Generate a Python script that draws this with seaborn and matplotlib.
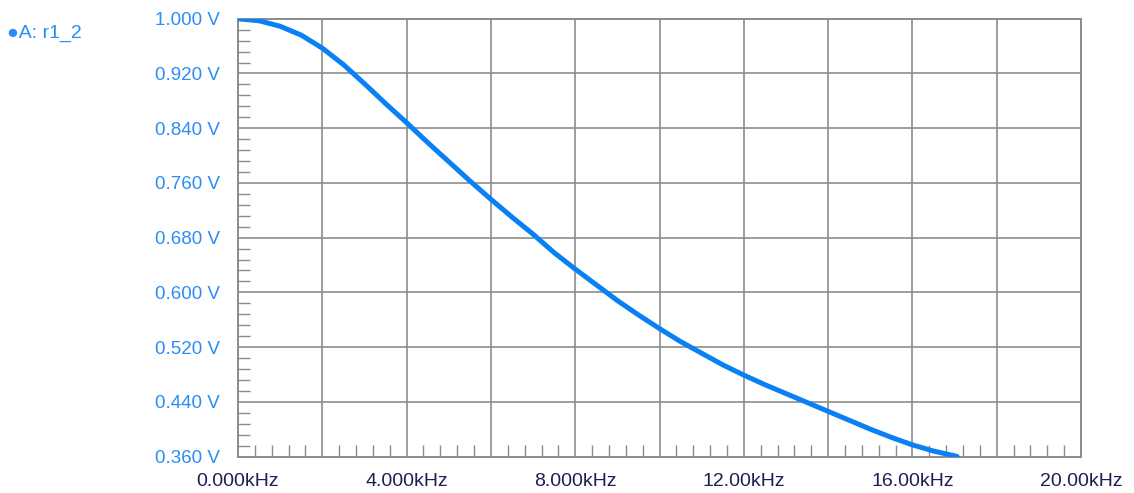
import pandas as pd
import matplotlib.pyplot as plt
import seaborn as sns
import numpy as np
from matplotlib.ticker import MultipleLocator

# frequency (kHz) and output voltage (V)
freq_khz = [0, 0.5, 1.0, 1.5, 2.0, 2.5, 3.0, 3.5, 4.0, 4.5, 5.0, 5.5, 6.0, 6.5, 7.0, 7.5,
            8.0, 8.5, 9.0, 9.5, 10.0, 10.5, 11.0, 11.5, 12.0, 12.5, 13.0, 13.5, 14.0,
            14.5, 15.0, 15.5, 16.0, 16.5, 17.0, 17.06]
volts = [1.000, 0.997, 0.989, 0.976, 0.957, 0.933, 0.905, 0.876, 0.848, 0.819, 0.791,
         0.763, 0.736, 0.710, 0.685, 0.658, 0.634, 0.611, 0.588, 0.567, 0.547, 0.528,
         0.511, 0.494, 0.479, 0.465, 0.452, 0.439, 0.426, 0.413, 0.400, 0.388, 0.377,
         0.368, 0.361, 0.360]

x_ticks = [0, 4, 8, 12, 16, 20]
x_tick_labels = ['0.000kHz', '4.000kHz', '8.000kHz', '12.00kHz', '16.00kHz', '20.00kHz']
y_ticks = [0.36, 0.44, 0.52, 0.60, 0.68, 0.76, 0.84, 0.92, 1.00]
y_tick_labels = ['0.360 V', '0.440 V', '0.520 V', '0.600 V', '0.680 V', '0.760 V',
                 '0.840 V', '0.920 V', '1.000 V']
trace_name = 'A: r1_2'

sns.set_style('white')
plt.rcParams['font.family'] = ['Liberation Sans', 'DejaVu Sans']

df = pd.DataFrame({'f': freq_khz, 'v': volts})

fig = plt.figure(figsize=(11.34, 4.93), dpi=100)
ax = fig.add_axes([0.2099, 0.074, 0.7434, 0.888])

grid_col = '#8c8c8c'
ax.set_xlim(0, 20)
ax.set_ylim(0.36, 1.0)
ax.grid(True, which='major', color=grid_col, linewidth=1.2)
ax.set_axisbelow(True)

sns.lineplot(data=df, x='f', y='v', ax=ax, color='#0a80f5', linewidth=3.6, zorder=3)

ax.set_xticks(np.arange(0, 21, 2))
ax.set_xticklabels([x_tick_labels[x_ticks.index(t)] if t in x_ticks else '' for t in range(0, 21, 2)],
                   fontsize=14, color='#1e1e55')
ax.set_yticks(y_ticks)
ax.set_yticklabels(y_tick_labels, fontsize=13.5, color='#2a8cf5')
ax.tick_params(which='major', length=0, pad=12)
ax.tick_params(axis='y', which='major', pad=13)
ax.tick_params(which='minor', direction='in', length=8.5, width=1, color=grid_col,
               bottom=True, left=True, top=False, right=False)
# minor ticks between grid lines only
ax.xaxis.set_minor_locator(plt.FixedLocator([t for t in np.arange(0, 20.01, 0.4)
                                             if abs(t / 2 - round(t / 2)) > 1e-6]))
ax.yaxis.set_minor_locator(plt.FixedLocator([t for t in np.arange(0.36, 1.0001, 0.016)
                                             if abs((t - 0.36) / 0.08 - round((t - 0.36) / 0.08)) > 1e-6]))

for s in ax.spines.values():
    s.set_color(grid_col)
    s.set_linewidth(1.4)

ax.set_xlabel('')
ax.set_ylabel('')

fig.text(0.006, 0.932, '\u25cf' + trace_name, fontsize=14, color='#2a8cf5', va='center', ha='left')

fig.savefig('out.png', dpi=100)
